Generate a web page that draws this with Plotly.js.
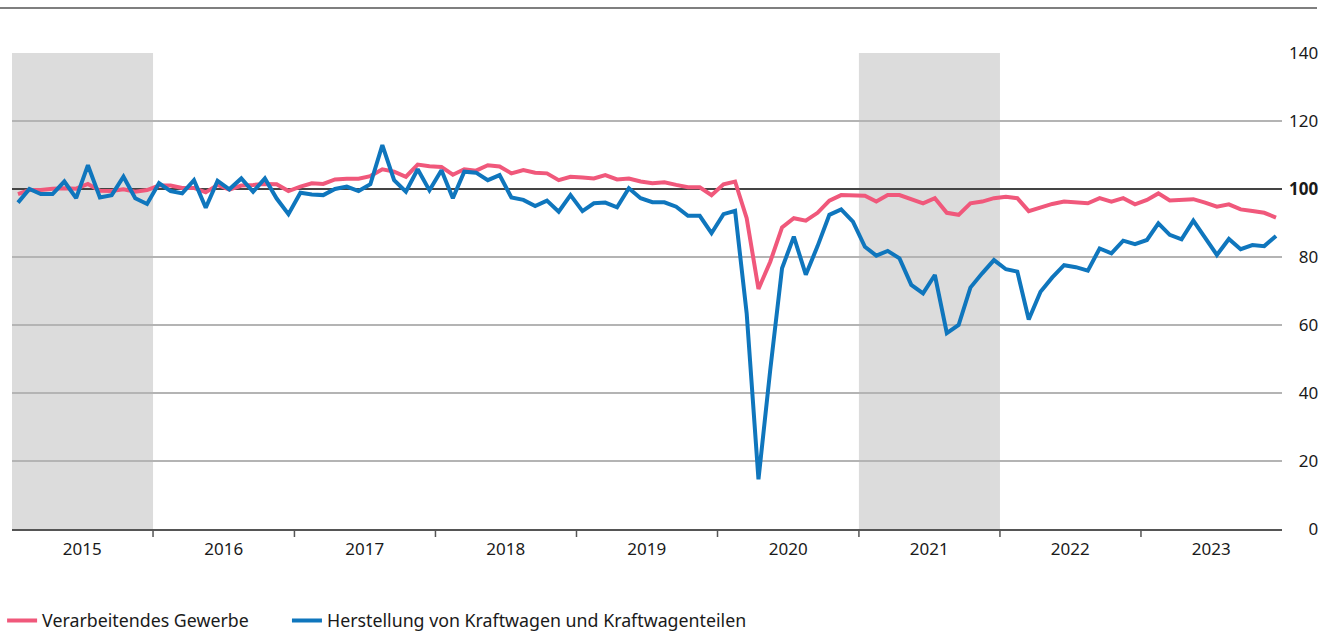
<!DOCTYPE html>
<html>
<head>
<meta charset="utf-8">
<script src="https://cdn.plot.ly/plotly-3.0.1.min.js"></script>
<style>html,body{margin:0;padding:0;background:#fff;}#chart{width:1331px;height:631px;}</style>
</head>
<body>
<div id="chart"></div>
<script>
// ---- data ----
const years = [2015, 2016, 2017, 2018, 2019, 2020, 2021, 2022, 2023];
const shadedYears = [2015, 2021];
const seriesNames = ["Verarbeitendes Gewerbe", "Herstellung von Kraftwagen und Kraftwagenteilen"];
const seriesColors = ["#f0587b", "#0f76bd"];
const referenceLevel = 100;

const verarbeitendesGewerbe = [
  98.5, 99.7, 99.7, 100.1, 100.2, 100.1, 101.5, 99.5, 99.4, 99.9, 99.2, 99.7,
  101.0, 101.0, 100.3, 100.3, 99.0, 101.2, 99.8, 101.0, 101.2, 101.5, 101.4, 99.4,
  100.7, 101.7, 101.5, 102.8, 103.0, 103.0, 103.8, 105.8, 105.1, 103.6, 107.2, 106.7,
  106.5, 104.2, 105.8, 105.4, 107.0, 106.6, 104.6, 105.6, 104.8, 104.6, 102.6, 103.6,
  103.4, 103.1, 104.1, 102.8, 103.1, 102.2, 101.7, 102.0, 101.2, 100.5, 100.5, 98.2,
  101.4, 102.2, 91.4, 70.6, 78.6, 88.7, 91.4, 90.7, 93.0, 96.6, 98.2, 98.2,
  98.0, 96.3, 98.2, 98.2, 97.0, 95.8, 97.3, 93.0, 92.4, 95.8, 96.3, 97.3,
  97.7, 97.3, 93.5, 94.6, 95.6, 96.3, 96.0, 95.8, 97.3, 96.3, 97.3, 95.5,
  96.8, 98.7, 96.6, 96.8, 97.0, 96.0, 94.8, 95.5, 94.0, 93.5, 93.0, 91.6
];
const kraftwagen = [
  96.0, 100.0, 98.5, 98.5, 102.2, 97.3, 107.0, 97.5, 98.2, 103.6, 97.3, 95.6,
  101.7, 99.4, 98.7, 102.6, 94.5, 102.4, 99.9, 103.1, 99.2, 103.1, 97.2, 92.6,
  98.9, 98.4, 98.2, 100.0, 100.7, 99.4, 101.4, 112.9, 102.6, 99.2, 105.8, 99.6,
  105.5, 97.3, 105.1, 104.8, 102.6, 104.1, 97.5, 96.8, 95.0, 96.6, 93.3, 98.2,
  93.5, 95.8, 96.0, 94.6, 100.2, 97.3, 96.1, 96.1, 94.8, 92.1, 92.1, 87.0,
  92.6, 93.6, 63.4, 14.6, 46.8, 76.7, 86.0, 74.8, 83.2, 92.4, 94.0, 90.4,
  83.0, 80.4, 81.8, 79.6, 71.8, 69.3, 74.7, 57.6, 60.0, 71.0, 75.2, 79.1,
  76.4, 75.7, 61.6, 69.8, 74.0, 77.6, 77.0, 76.0, 82.5, 81.1, 84.8, 83.8,
  85.0, 89.9, 86.5, 85.2, 90.7, 85.5, 80.6, 85.3, 82.3, 83.5, 83.2, 86.2
];
const yTickValues = [0, 20, 40, 60, 80, 100, 120, 140];
const yTickLabels = ["\u2007\u20070", "\u200720", "\u200740", "\u200760", "\u200780", "<b>100</b>", "120", "140"];

// ---- build ----
const months = [];
years.forEach(y => { for (let m = 1; m <= 12; m++) months.push(y + "-" + String(m).padStart(2, "0")); });
const xStart = years[0] + "-01-01";
const xEnd = (years[years.length - 1] + 1) + "-01-01";

const font = "'Noto Sans', 'Open Sans', sans-serif";
const legendIds = ["legend", "legend2"];

const traces = [{
  type: "scatter", mode: "lines", x: [xStart, xEnd], y: [referenceLevel, referenceLevel],
  line: {color: "#444", width: 2}, showlegend: false, hoverinfo: "skip"
}].concat([verarbeitendesGewerbe, kraftwagen].map((vals, k) => ({
  type: "scatter", mode: "lines", name: seriesNames[k], legend: legendIds[k],
  x: months, y: vals, xperiod: "M1", xperiodalignment: "middle",
  line: {color: seriesColors[k], width: 4},
  hoverinfo: "skip"
})));

const shapes = [];
shadedYears.forEach(y => shapes.push({
  type: "rect", xref: "x", yref: "paper", x0: y + "-01-01", x1: (y + 1) + "-01-01", y0: 0, y1: 1,
  fillcolor: "#dcdcdc", line: {width: 0}, layer: "below"
}));
years.slice(1).forEach(y => shapes.push({
  type: "line", xref: "x", yref: "paper", x0: y + "-01-01", x1: y + "-01-01", y0: 0, y1: -0.0168,
  line: {color: "#555", width: 1.5}, layer: "above"
}));
shapes.push({type: "line", xref: "paper", yref: "paper", x0: -12 / 1270, x1: 1305 / 1270, y0: 1.0945, y1: 1.0945,
  line: {color: "#555", width: 1.5}, layer: "above"});

const legendBase = {orientation: "h", xref: "paper", xanchor: "left",
  yref: "container", y: 0.016, yanchor: "middle",
  font: {family: font, size: 17.8, color: "#1a1a1a"}, itemwidth: 30, bgcolor: "rgba(0,0,0,0)"};

const layout = {
  width: 1331, height: 631,
  margin: {l: 12, r: 49, t: 53, b: 102},
  paper_bgcolor: "#fff", plot_bgcolor: "#fff",
  font: {family: font, color: "#1a1a1a", size: 15},
  showlegend: true,
  legend: Object.assign({}, legendBase, {x: -0.0078}),
  legend2: Object.assign({}, legendBase, {x: 0.2165}),
  xaxis: {
    type: "date", range: [xStart, xEnd],
    tickvals: years.map(y => y + "-07-02"), ticktext: years.map(String),
    ticks: "", showgrid: false, zeroline: false, automargin: false,
    showline: true, linecolor: "#555", linewidth: 2, ticklabelstandoff: 4,
    tickfont: {family: font, size: 17, color: "#1a1a1a"}
  },
  yaxis: {
    side: "right", range: [0, 140], tickvals: yTickValues, ticktext: yTickLabels, automargin: false,
    ticks: "", showgrid: true, gridcolor: "#b4b4b4", gridwidth: 1.3, zeroline: false,
    showline: false, tickfont: {family: font, size: 17, color: "#1a1a1a"}, ticklabelstandoff: 6
  },
  shapes: shapes
};

Plotly.newPlot("chart", traces, layout, {displayModeBar: false, staticPlot: true});
</script>
</body>
</html>
